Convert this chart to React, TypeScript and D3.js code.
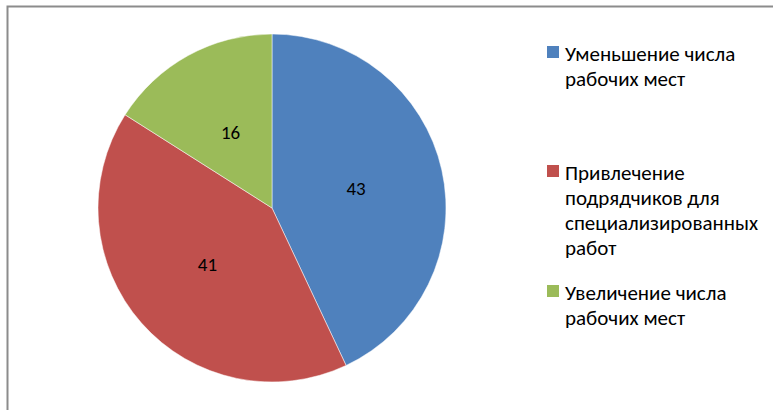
import { useEffect, useRef } from "react";
import * as d3 from "d3";

const categories = [
  "Уменьшение числа рабочих мест",
  "Привлечение подрядчиков для специализированных работ",
  "Увеличение числа рабочих мест",
];
const values = [43, 41, 16];
const colors = ["#4F81BD", "#C0504D", "#9BBB59"];
// legend text broken into lines as in the picture
const legendLines = [
  ["Уменьшение числа", "рабочих мест"],
  ["Привлечение", "подрядчиков для", "специализированных", "работ"],
  ["Увеличение числа", "рабочих мест"],
];

const W = 773;
const H = 410;

export default function App() {
  const ref = useRef<SVGSVGElement>(null);

  useEffect(() => {
    const svg = d3.select(ref.current).html("");
    const font = "Carlito, Calibri, 'Open Sans', sans-serif";

    // chart frame
    svg
      .append("rect")
      .attr("x", 7.5)
      .attr("y", 6.5)
      .attr("width", 800)
      .attr("height", 500)
      .attr("fill", "#fff")
      .attr("stroke", "#8c8c8c")
      .attr("stroke-width", 2);

    const cx = 272;
    const cy = 208;
    const r = 174;

    const pie = d3
      .pie<number>()
      .sort(null)
      .value((d) => d);
    const arcs = pie(values);
    const arc = d3.arc<d3.PieArcDatum<number>>().innerRadius(0).outerRadius(r);
    const labelArc = d3
      .arc<d3.PieArcDatum<number>>()
      .innerRadius(r * 0.99)
      .outerRadius(0);

    const g = svg.append("g").attr("transform", `translate(${cx},${cy})`);

    g.selectAll("path")
      .data(arcs)
      .enter()
      .append("path")
      .attr("d", arc)
      .attr("fill", (_, i) => colors[i])
      .attr("stroke", "#fff")
      .attr("stroke-width", 0.5);

    g.selectAll(".label")
      .data(arcs)
      .enter()
      .append("text")
      .attr("class", "label")
      .attr("transform", (d) => `translate(${labelArc.centroid(d)})`)
      .attr("text-anchor", "middle")
      .attr("dy", "0.33em")
      .style("font-family", font)
      .style("font-size", "19px")
      .style("fill", "#000")
      .text((d) => d.data);

    // legend
    const baseY = [61, 180, 300];
    const lineH = 25;
    const textX = 565;
    const legend = svg.append("g");
    legendLines.forEach((lines, i) => {
      legend
        .append("rect")
        .attr("x", 547)
        .attr("y", baseY[i] - 15)
        .attr("width", 12)
        .attr("height", 12)
        .attr("fill", colors[i]);
      const t = legend
        .append("text")
        .style("font-family", font)
        .style("font-size", "21px")
        .style("fill", "#000");
      lines.forEach((ln, j) => {
        t.append("tspan")
          .attr("x", textX)
          .attr("y", baseY[i] + j * lineH)
          .text(ln);
      });
      t.append("title").text(categories[i]);
    });
  }, []);

  return (
    <svg
      ref={ref}
      width={W}
      height={H}
      style={{ position: "absolute", left: 0, top: 0, display: "block" }}
    />
  );
}
